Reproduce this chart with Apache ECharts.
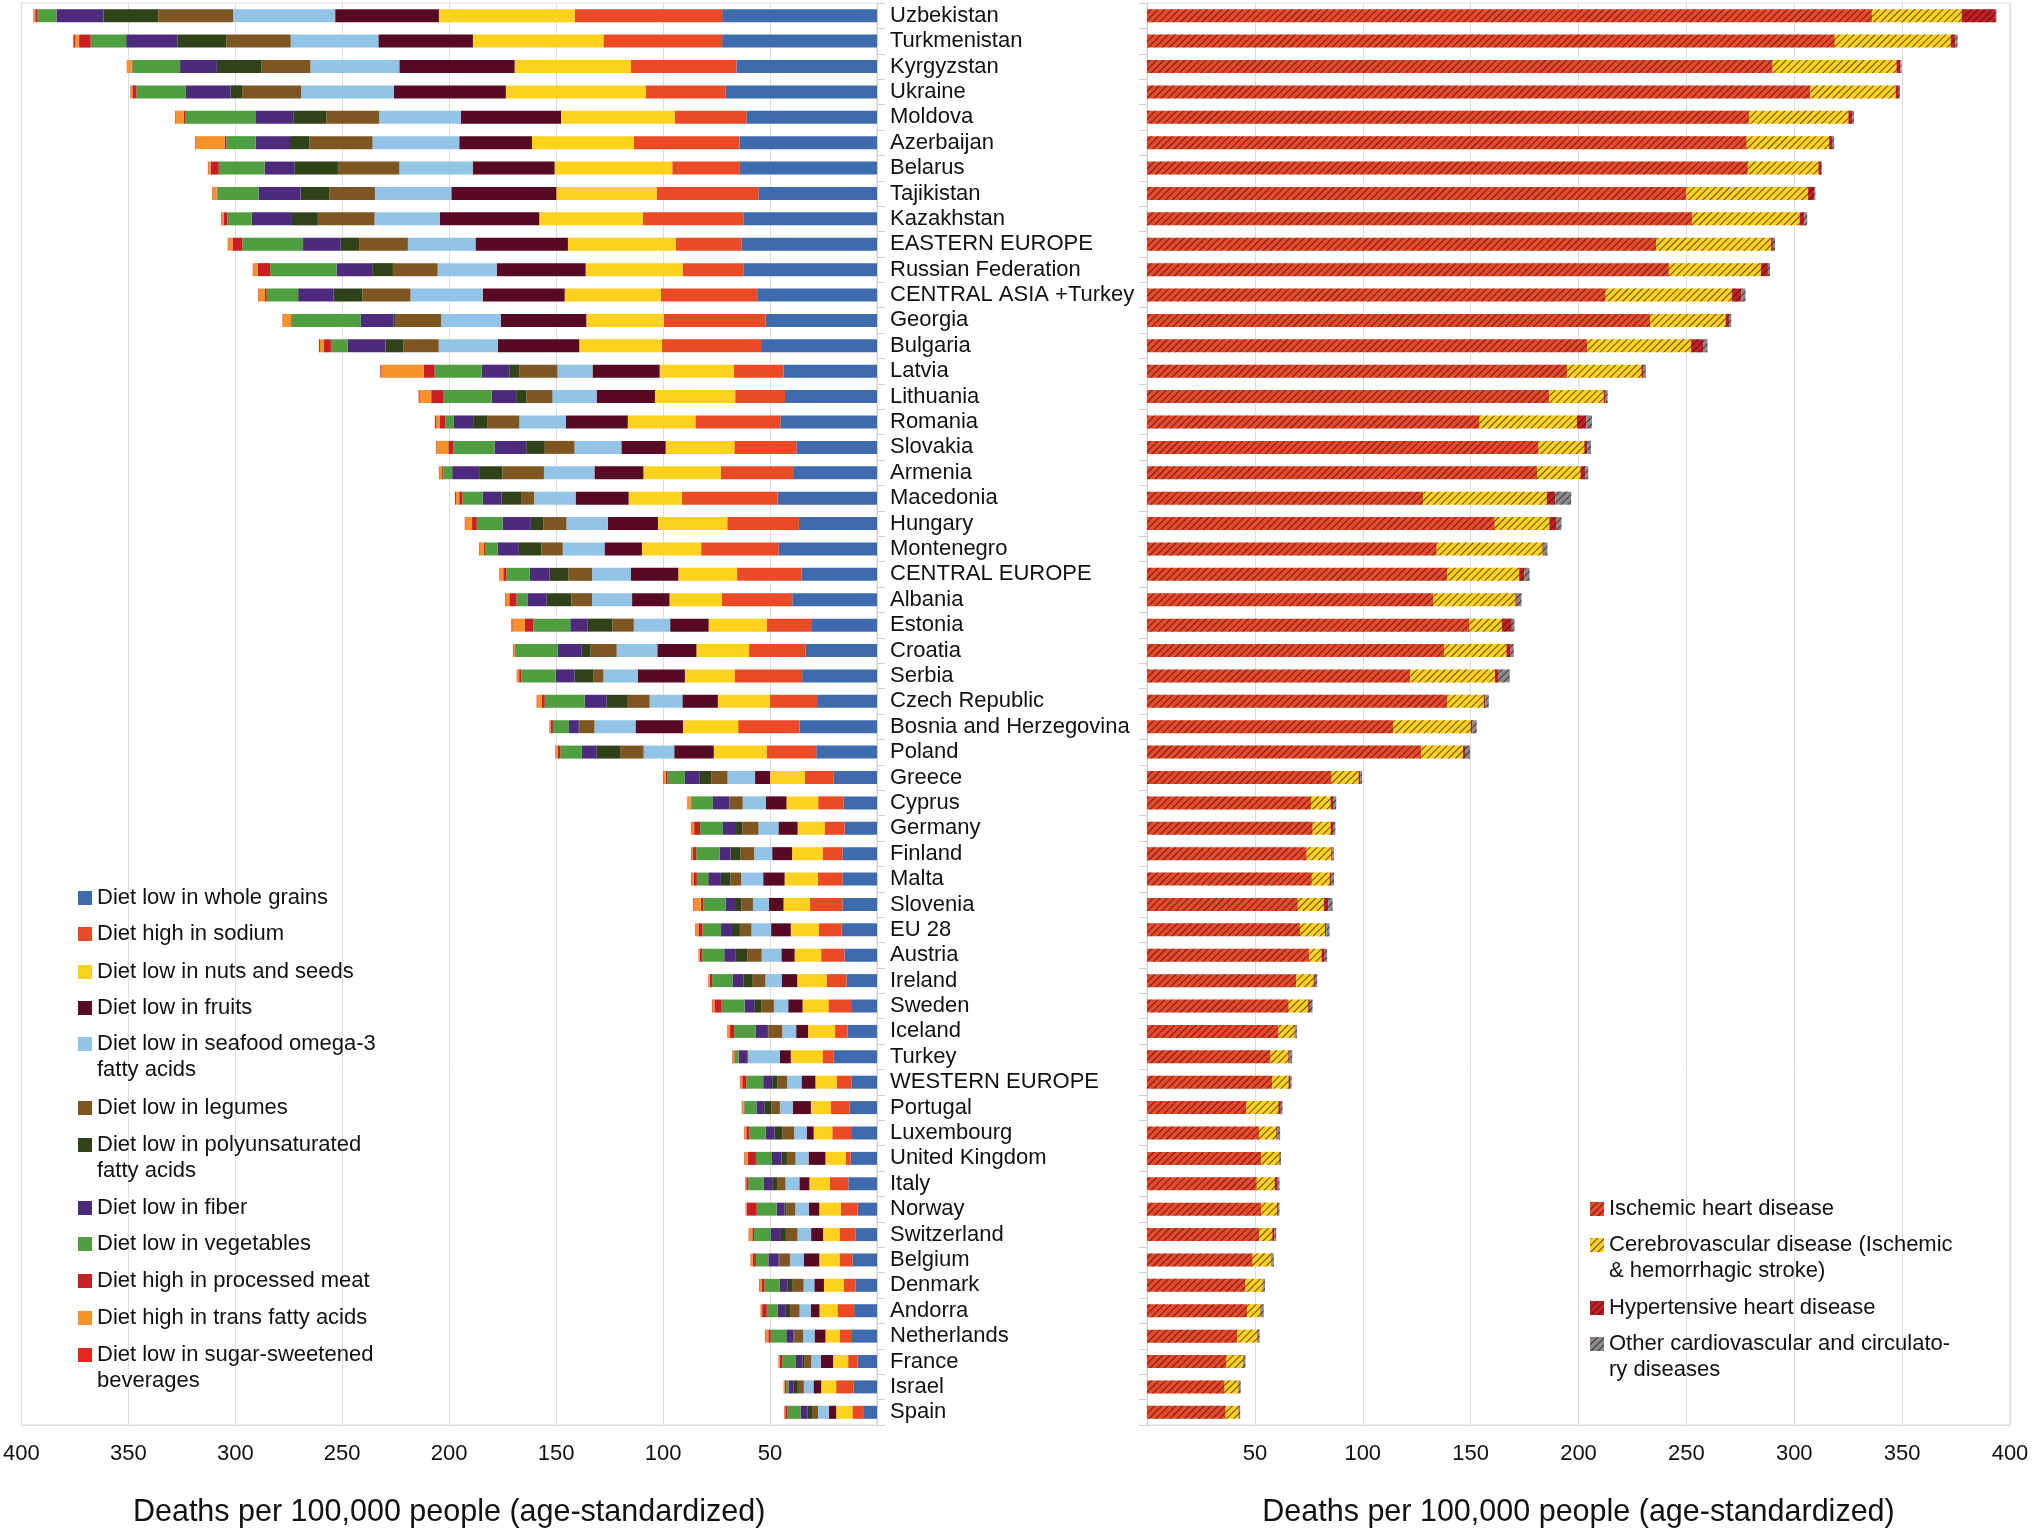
<!DOCTYPE html>
<html>
<head>
<meta charset="utf-8">
<script src="https://cdn.jsdelivr.net/npm/echarts@6/dist/echarts.min.js"></script>
<style>
html,body{margin:0;padding:0;background:#fff;}
#chart{width:2032px;height:1533px;}
</style>
</head>
<body>
<div id="chart"></div>
<script>
const countries = ["Uzbekistan","Turkmenistan","Kyrgyzstan","Ukraine","Moldova","Azerbaijan","Belarus","Tajikistan","Kazakhstan","EASTERN EUROPE","Russian Federation","CENTRAL ASIA +Turkey","Georgia","Bulgaria","Latvia","Lithuania","Romania","Slovakia","Armenia","Macedonia","Hungary","Montenegro","CENTRAL EUROPE","Albania","Estonia","Croatia","Serbia","Czech Republic","Bosnia and Herzegovina","Poland","Greece","Cyprus","Germany","Finland","Malta","Slovenia","EU 28","Austria","Ireland","Sweden","Iceland","Turkey","WESTERN EUROPE","Portugal","Luxembourg","United Kingdom","Italy","Norway","Switzerland","Belgium","Denmark","Andorra","Netherlands","France","Israel","Spain"];

const xTicks = [0,50,100,150,200,250,300,350,400];

// Left panel: diet risk factors
const wholeGrains = [72.4,72.4,65.7,70.8,61.1,64.3,64.1,55.5,62.5,63.3,62.5,56,52,54.2,43.7,43,45.2,37.7,39.2,46.5,36.5,45.9,35.3,39.6,30.4,33.3,35,28,36.2,28.4,20.2,15.7,15.1,16.2,16.2,16.2,16.5,15.2,14.3,11.7,13.8,20.2,12,12.8,11.7,12.3,13.4,9,10.1,11.5,10,10.7,11.7,9,10.9,6.1];
const sodium = [68.9,55.5,49.3,37.3,33.5,49.3,31.6,47.5,46.9,30.8,28.4,45,47.7,46.4,23.3,23.3,39.7,29,33.8,44.8,33.5,36.3,30.1,32.9,21.1,26.5,31.4,22.1,28.7,23.1,13.5,11.8,9.2,9.2,11.4,15.1,10.6,10.9,9.3,11,5.8,5.3,6.8,8.9,9.2,2.2,8.6,7.9,7.3,5.9,5.6,7.8,5.6,4.5,8.2,5.4];
const nutsSeeds = [63.5,61,54.4,65.4,53.1,47.7,55,46.9,48.5,50.4,45.3,45,36.2,38.6,34.6,37.5,31.6,32.1,36.2,24.8,32.4,27.7,27.5,24.5,27.2,24.6,23.4,24.3,25.8,24.8,16.3,14.8,12.8,14.3,15.6,12.4,13.2,12.4,13.7,12.1,12.6,14.8,10,9.2,8.7,9.6,9.6,10.1,7.8,9.6,9.2,8.4,6.8,7,7,7.6];
const fruits = [48.5,44.2,53.9,52.3,46.9,34,38.3,49.1,46.4,43.2,41.6,38.3,40,38.1,31.4,27.3,29,20.7,22.9,24.8,23.4,17.5,22.1,17.5,18,18.3,22.1,16.6,22.2,18.5,7,9.6,9,9.3,10,6.8,9.2,6.2,7.3,6.7,5.6,5.1,6.5,8.4,3.3,7.9,4.7,4.8,5.6,7.3,4.5,4,5.1,5.8,3.6,3.4];
const seafood = [47.7,41,41.6,43.4,38.1,40.5,34.3,35.7,30.6,31.6,27.6,33.8,27.9,27.6,16.4,20.6,21.7,21.9,23.6,19.4,19.4,19.5,18.2,18.7,17,19,16,15.3,19.2,14.3,12.9,10.9,9.3,8.4,10.3,7.5,9.2,9.2,7.6,6.7,6.5,14.8,6.7,6.1,5.8,6.1,6.5,6.4,6.4,6.4,5,5.3,5.3,4.4,4.5,5.1];
const legumes = [34.9,30,22.8,27.6,24.7,29.5,28.7,21.4,26.5,22.8,20.9,22.5,21.2,16.6,17.7,12.2,14.8,13.9,19.4,6.1,10.7,10,11,9.7,10,12.2,4.8,10.2,7.1,11,7.6,6.1,7.5,6.4,5,5.3,5.4,6.8,5.9,5.8,6.5,0.3,4.5,4,5.6,4,3.9,4.2,5.4,5,5.1,4.4,4.2,3.4,2.8,2.8];
const polyFat = [25.7,23,20.9,5.4,15.5,9.1,20.4,13.4,12.1,8.8,9.7,13.4,1,8.3,4.8,4.8,6.8,8.7,10.9,9.2,5.9,10.5,8.8,11.5,11.5,4.1,8.7,9.9,0.2,10.9,5.6,0.2,3,4.7,4.5,3.1,3.7,5.3,4.4,3.4,0.2,0.3,2.5,3.3,3.6,2.6,2.3,0.8,2.3,0.3,2.3,2,0.3,0.8,1.9,2];
const fiber = [22,23.9,17.2,20.9,17.4,16.1,13.9,19.6,18.8,17.4,16.6,16.6,15.3,17.7,12.9,11.5,9.2,14.8,12.6,8.7,13.2,10,9.3,9,8.2,11.2,8.8,10.2,4.6,7,6.7,7.6,6.1,5.1,5.9,4.4,5.1,5.4,5.1,4.5,5.8,3.9,4.2,3.7,4.2,4.4,3.9,3.7,4.7,4.8,3.7,3.9,3.4,3,2.5,3.3];
const vegetables = [8.8,16.6,22.3,23.1,33.2,13.7,21.4,19.3,11.3,28.4,31.1,14.7,32.4,7.8,22,22.4,3.9,19.2,4.2,9.5,12.1,5.9,11,5.1,17.3,19.7,16.1,18.7,7.5,10,8.1,10.1,10.7,10.9,5.3,10.4,8.7,10.3,9.5,10.7,10,1.7,7.9,5.6,7.6,7.5,7.3,9.3,7.9,5.8,7.2,5,7.3,6.4,1.1,6.1];
const processedMeat = [1.1,5.4,0.3,1.9,0.5,0.8,3.8,0.3,1.9,4.6,5.9,0.8,0.5,3.2,5.1,5.8,2.4,2.4,0.5,1.5,2.2,0.5,1.4,3.4,3.9,0.3,1,1.5,1,1.2,0.9,0.3,2.8,1.5,1.5,1.2,1.9,1.2,1.1,3.4,1.9,0.3,1.9,0.3,1.4,3.9,0.9,4.7,0.8,1.4,1.4,2.2,1.1,1.2,0.6,1.1];
const transFat = [0.5,1.9,2.1,0.8,3.8,13.4,1,1.9,0.8,1.9,1.9,2.9,3.5,1.9,19.8,5.4,1.7,5.4,1.2,1.5,3.1,1.9,1.5,1.7,5.8,0.7,0.8,2,0.3,0.8,0.9,1.2,1.2,0.6,0.9,3.3,1.1,0.3,0.5,0.8,0.9,0.8,0.8,0.6,0.9,1.2,0.3,0.3,1.4,0.9,0.8,0.5,1.2,0.3,0.3,0.3];
const sugarBev = [0.3,0.8,0.2,0.2,0.3,0.3,0.3,0.2,0.3,0.3,0.3,0.3,0.2,0.5,0.5,0.5,0.7,0.3,0.3,0.5,0.3,0.3,0.3,0.3,0.5,0.3,0.3,0.3,0.3,0.3,0.3,0.3,0.3,0.3,0.3,0.3,0.3,0.2,0.2,0.3,0.3,0.2,0.3,0.3,0.2,0.3,0.2,0.2,0.3,0.2,0.3,0.2,0.3,0.2,0.2,0.2];

// Right panel: causes of death
const ischemic = [336,318.8,290,307.5,279,278,278.5,250,252.7,236.1,241.9,212.6,233.2,204,194.7,186.4,154.2,181.5,180.8,128,161.2,134.3,139.3,132.8,149.5,137.7,122,139.3,114.2,127.2,85.6,76,76.8,74,76.4,69.9,70.9,75.3,69.2,65.7,61,57.3,58,46.1,51.9,53,50.9,53,52.1,49,45.6,46.4,41.9,36.9,36,36.5];
const cerebro = [41.6,53.8,57.4,39.5,46.1,38.2,32.7,56.4,49.8,53.2,42.7,58.5,35,48.2,34.5,25.3,45.1,21.2,20.1,57.3,25.3,49,33.2,38,15,28.9,39.3,16.8,35.9,19.3,12.5,9.1,8.3,11.4,8.3,12.1,11.6,5.6,8,9,7.4,8.2,7.6,14.8,8,8.2,8.3,7.3,6,8.7,8,6.2,9.1,7.6,6.3,5.7];
const hypertensive = [15.8,2.1,1.8,1.5,1.8,1.3,1.3,2.9,2.1,0.8,3.2,4.5,1.6,5.5,1,0.9,4.3,1.4,2.2,3.9,3.4,0.6,2.3,0.6,4.6,2,1.7,0.8,0.8,0.9,0.8,1.1,1.1,0.6,0.8,2,0.6,1.5,0.6,0.8,0.3,0.6,0.8,1.1,0.6,0.3,1.4,0.5,0.9,0.3,0.3,0.3,0.3,0.3,0.2,0.2];
const otherCvd = [0.3,1,0.5,0.5,0.8,1,0.3,0.5,1.4,1,1,1.8,1,2.1,1,0.9,2.6,1.7,1.4,7.4,2.2,1.7,2.5,2.2,1.2,1.4,5.1,1.5,1.9,2.3,0.8,1.5,1.1,0.6,1.2,2,1.5,1.1,1.1,1.2,0.8,1.2,0.6,0.8,1.2,0.6,0.8,0.6,0.9,0.8,0.8,1.2,0.9,0.8,0.9,0.8];

const dietNames = ["Diet low in whole grains","Diet high in sodium","Diet low in nuts and seeds","Diet low in fruits","Diet low in seafood omega-3\nfatty acids","Diet low in legumes","Diet low in polyunsaturated\nfatty acids","Diet low in fiber","Diet low in vegetables","Diet high in processed meat","Diet high in trans fatty acids","Diet low in sugar-sweetened\nbeverages"];
const dietData = [wholeGrains,sodium,nutsSeeds,fruits,seafood,legumes,polyFat,fiber,vegetables,processedMeat,transFat,sugarBev];
const dietColors = ["#3D6BAE","#EA4B26","#FDD21F","#580A22","#92C4E7","#7E5622","#2F4219","#4E2A7C","#4F9E40","#C91E24","#F6922A","#E4261D"];

const cvdNames = ["Ischemic heart disease","Cerebrovascular disease (Ischemic\n& hemorrhagic stroke)","Hypertensive heart disease","Other cardiovascular and circulato-\nry diseases"];
const cvdData = [ischemic,cerebro,hypertensive,otherCvd];
const cvdColors = ["#E9482A","#FDD21F","#C41F25","#8A8A8A"];

const FONT = "Liberation Sans";
const TXT = "#111";
const GRID_C = "#dcdce2";
const axisTitle = "Deaths per 100,000 people (age-standardized)";

const series = [];
dietNames.forEach((n,i)=>{
  series.push({name:n,type:'bar',stack:'diet',xAxisIndex:0,yAxisIndex:0,barWidth:13,
    itemStyle:{color:dietColors[i]},data:dietData[i]});
});
const decalBase = {symbol:'rect',symbolSize:1,dashArrayX:[1,0],dashArrayY:[1,4],rotation:-Math.PI/4,color:'rgba(40,20,20,0.72)'};
cvdNames.forEach((n,i)=>{
  series.push({name:n,type:'bar',stack:'cvd',xAxisIndex:1,yAxisIndex:1,barWidth:13,
    itemStyle:{color:cvdColors[i],decal:Object.assign({},decalBase)},data:cvdData[i]});
});

// legends: one component per item, positioned individually
const legends = [];
const LH = 26;
// tall icon: a 14x14 square at the top of a 14x40 box, so the square sits beside the first text line
const TALL_ICON = 'path://M0,0H14V14H0Z M0,40H0.01V40.01H0Z';
function addLegend(name, iconLeft, iconCenter){
  const two = name.indexOf('\n')>=0;
  const item = {name:name};
  let ih = 14;
  if(two){ item.icon = TALL_ICON; ih = 40; }
  legends.push({left:iconLeft, top:iconCenter - LH/2, padding:0, orient:'vertical', icon:'rect', itemWidth:14, itemHeight:ih,
    selectedMode:false, data:[item], textStyle:{fontFamily:FONT,fontSize:22,color:TXT,lineHeight:LH}});
}
const dietIconY = [898,934,972,1008,1044,1108,1145,1208,1244,1281,1318,1355];
dietNames.forEach((n,i)=>addLegend(n,78,dietIconY[i]));
const cvdIconY = [1209,1245,1308,1344];
cvdNames.forEach((n,i)=>addLegend(n,1590,cvdIconY[i]));

function xAxisCfg(idx, inverse){
  return {type:'value',gridIndex:idx,inverse:inverse,min:xTicks[0],max:xTicks[xTicks.length-1],interval:xTicks[1]-xTicks[0],
    name:axisTitle,nameLocation:'middle',nameGap:72,
    nameTextStyle:{fontFamily:FONT,fontSize:30.5,color:TXT},
    axisLine:{show:true,lineStyle:{color:GRID_C}},axisTick:{show:false},
    splitLine:{show:true,lineStyle:{color:GRID_C,width:1}},
    axisLabel:{fontFamily:FONT,fontSize:22,color:TXT,margin:18,formatter:v=>v===0?'':String(v)}};
}

const option = {
  animation:false,
  backgroundColor:'#fff',
  textStyle:{fontFamily:FONT},
  legend:legends,
  grid:[
    {left:20,right:1155,top:3,bottom:103,show:true,borderColor:GRID_C,borderWidth:1,containLabel:false},
    {left:1147,right:22,top:3,bottom:103,show:true,borderColor:GRID_C,borderWidth:1,containLabel:false}
  ],
  xAxis:[xAxisCfg(0,true),xAxisCfg(1,false)],
  yAxis:[
    {type:'category',gridIndex:0,data:countries,inverse:true,position:'right',
     axisLine:{show:true,lineStyle:{color:'#cfcfd6'}},axisTick:{show:true,length:8,lineStyle:{color:'#cfcfd6'}},
     axisLabel:{fontFamily:FONT,fontSize:22,color:TXT,margin:13,interval:0,padding:[3,0,0,0]}},
    {type:'category',gridIndex:1,data:countries,inverse:true,position:'left',
     axisLine:{show:true,lineStyle:{color:'#cfcfd6'}},axisTick:{show:true,length:8,lineStyle:{color:'#cfcfd6'}},
     axisLabel:{show:false}}
  ],
  series:series
};

const chart = echarts.init(document.getElementById('chart'),null,{renderer:'canvas'});
chart.setOption(option);
</script>
</body>
</html>
